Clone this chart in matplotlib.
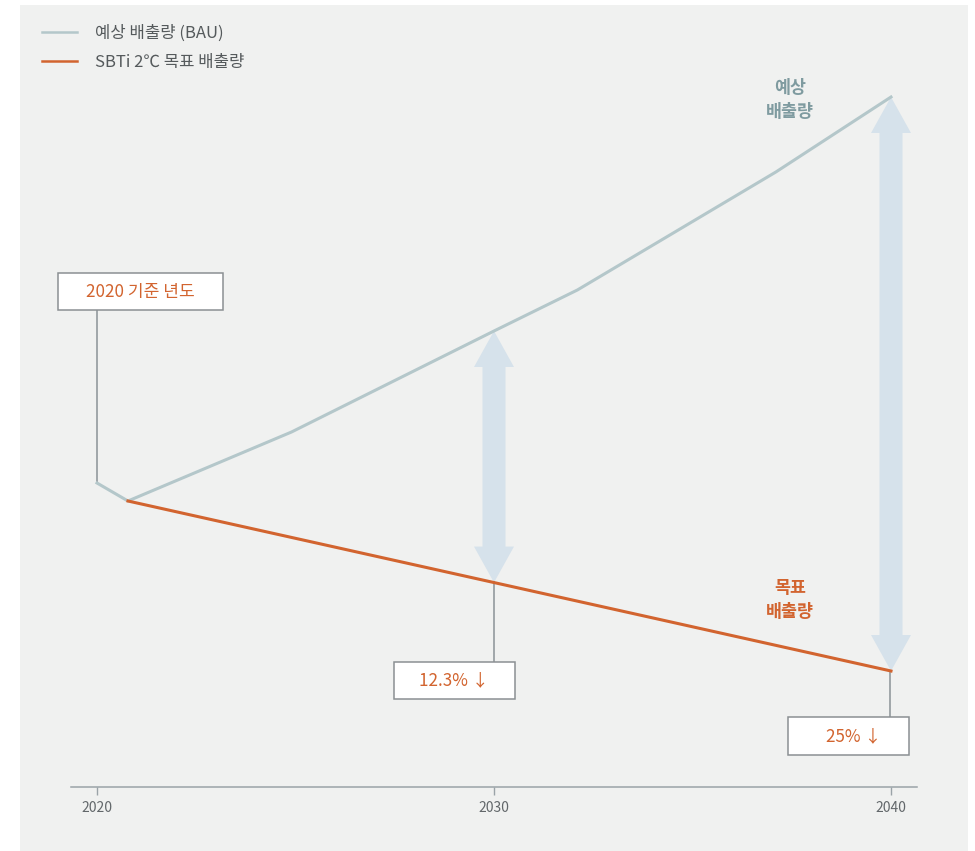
import numpy as np
import matplotlib
matplotlib.use("Agg")
import matplotlib.pyplot as plt
from matplotlib.patches import Polygon, Rectangle

plt.rcParams['font.family'] = ['Noto Sans CJK KR', 'DejaVu Sans']

# 데이터 (그림에서 읽은 값, 단위는 임의)
bau_years = [2020, 2020.78, 2024.9, 2030, 2032.1, 2037.1, 2040]
bau_values = [304, 286, 355, 456, 497, 615, 690]
target_years = [2020.78, 2040]
target_values = [286, 116]
tick_years = [2020, 2030, 2040]
arrow_years = [2030, 2040]
bau_label = '예상 배출량 (BAU)'
target_label = 'SBTi 2℃ 목표 배출량'
box_texts = ['2020 기준 년도', '12.3% ↓', '25% ↓']

BAU_C = '#b4c7ca'
TGT_C = '#d2642f'
ARROW_C = '#d6e2eb'
GRAY = '#9aa1a4'
BG = '#f0f1f0'

W, H = 975, 851
PXY = 39.7  # 1년당 픽셀


def pos(px, py):
    # 레이아웃용 픽셀 -> 데이터 좌표
    return 2020 + (px - 97) / PXY, 787 - py


def double_arrow(x, lo, hi, shaft=23 / PXY, head=40 / PXY, hl=36):
    s, h = shaft / 2, head / 2
    verts = [(x, hi), (x + h, hi - hl), (x + s, hi - hl), (x + s, lo + hl),
             (x + h, lo + hl), (x, lo), (x - h, lo + hl), (x - s, lo + hl),
             (x - s, hi - hl), (x - h, hi - hl)]
    return Polygon(verts, closed=True, facecolor=ARROW_C, lw=0, zorder=1)


fig = plt.figure(figsize=(W / 100, H / 100), dpi=100)
fig.patch.set_facecolor('white')
ax = fig.add_axes([20 / W, 0, (968 - 20) / W, (851 - 5) / H])
ax.set_facecolor(BG)
ax.set_xlim(pos(20, 0)[0], pos(968, 0)[0])
ax.set_ylim(pos(0, 851)[1], pos(0, 5)[1])

# 양방향 화살표
for yr in arrow_years:
    hi = np.interp(yr, bau_years, bau_values)
    lo = np.interp(yr, target_years, target_values)
    ax.add_patch(double_arrow(yr, lo, hi))

l1, = ax.plot(bau_years, bau_values, color=BAU_C, lw=2.2, zorder=3,
              label=bau_label)
l2, = ax.plot(target_years, target_values, color=TGT_C, lw=2.2, zorder=3,
              label=target_label)

# 박스 라벨 + 연결선
boxes = [
    ((58, 273, 223, 310), (97, 310, 97, 483), box_texts[0], 140),
    ((394, 662, 515, 699), (494, 582, 494, 662), box_texts[1], 454),
    ((788, 717, 909, 755), (890, 671, 890, 717), box_texts[2], 854),
]
for (x0, y0, x1, y1), (cx0, cy0, cx1, cy1), txt, tx in boxes:
    a = pos(x0, y1)
    b = pos(x1, y0)
    ax.add_patch(Rectangle(a, b[0] - a[0], b[1] - a[1], facecolor='white',
                           edgecolor='#8b9093', lw=1.1, zorder=4))
    c0 = pos(cx0, cy0)
    c1 = pos(cx1, cy1)
    ax.plot([c0[0], c1[0]], [c0[1], c1[1]], color=GRAY, lw=1.3, zorder=2)
    t = pos(tx, (y0 + y1) / 2)
    ax.text(t[0], t[1], txt, ha='center', va='center', fontsize=12.3,
            color=TGT_C, zorder=5)

# 시리즈 라벨
t = pos(790, 100)
ax.text(t[0], t[1], '예상\n배출량', ha='center', va='center', fontsize=12.5,
        fontweight='bold', color='#7f9ba0', linespacing=1.45)
t = pos(790, 600)
ax.text(t[0], t[1], '목표\n배출량', ha='center', va='center', fontsize=12.5,
        fontweight='bold', color=TGT_C, linespacing=1.45)

# x축
for s in ['top', 'right', 'left']:
    ax.spines[s].set_visible(False)
ax.spines['bottom'].set_position(('data', 0))
ax.spines['bottom'].set_bounds(pos(71, 0)[0], pos(917, 0)[0])
ax.spines['bottom'].set_color('#9aa3a8')
ax.spines['bottom'].set_linewidth(1.1)
ax.set_xticks(tick_years)
ax.set_xticklabels([str(y) for y in tick_years])
ax.tick_params(axis='x', direction='out', length=6, width=1, color='#9aa3a8',
               labelsize=10, labelcolor='#62676a', pad=4)
ax.set_yticks([])

leg = ax.legend(handles=[l1, l2], loc='upper left',
                bbox_to_anchor=(42 / W, 1 - 25 / H),
                bbox_transform=fig.transFigure, frameon=False, fontsize=12,
                handlelength=2.1, handletextpad=1.1, labelspacing=0.7,
                borderaxespad=0, borderpad=0)
for txt in leg.get_texts():
    txt.set_color('#555a5c')
for ln in leg.get_lines():
    ln.set_linewidth(1.8)

fig.savefig('out.png', dpi=100, facecolor='white')
